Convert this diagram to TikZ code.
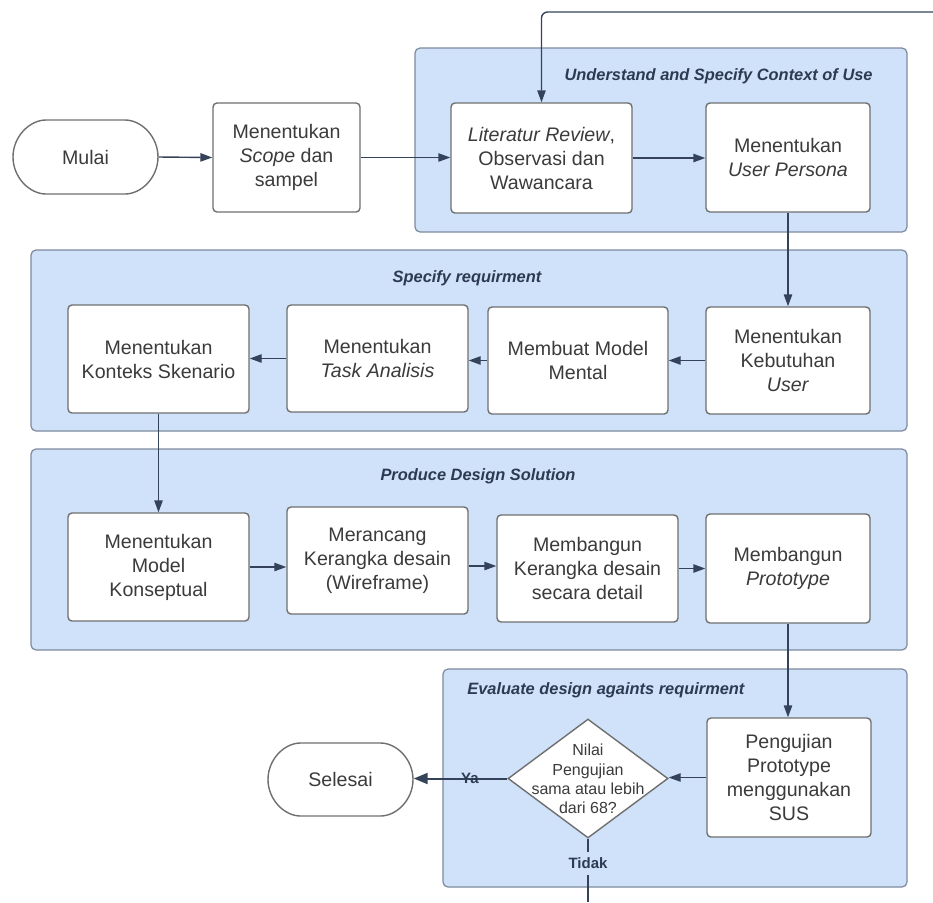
\documentclass[tikz,border=0pt]{standalone}
\usepackage{fontspec}
\setmainfont{Liberation Sans}
\usetikzlibrary{arrows.meta,shapes.geometric,shapes.misc}
\definecolor{grpfill}{HTML}{CFE2FA}
\definecolor{grpline}{HTML}{7D8A9C}
\definecolor{boxline}{HTML}{6F6F6F}
\definecolor{txt}{HTML}{3B3B3B}
\definecolor{ttl}{HTML}{2C3B50}
\definecolor{arrcol}{HTML}{34435A}
\begin{document}
\begin{tikzpicture}[x=0.5pt,y=-0.5pt,
  sz/.style 2 args={minimum width=#1*0.5pt, minimum height=#2*0.5pt},
  grp/.style={draw=grpline, fill=grpfill, line width=0.6pt, rounded corners=2.5pt, inner sep=0pt},
  procbox/.style={draw=boxline, fill=white, line width=0.7pt, rounded corners=2pt,
    align=center, text=txt, font=\fontsize{9.8}{12}\selectfont, inner sep=0pt},
  term/.style={procbox, rounded rectangle},
  decis/.style={draw=boxline, fill=white, line width=0.7pt, diamond, inner sep=0pt},
  dtext/.style={align=center, text=txt, font=\fontsize{8}{9.6}\selectfont, inner sep=0pt},
  ttlstyle/.style={font=\fontsize{8.2}{10}\selectfont\bfseries\itshape, text=ttl, inner sep=0pt},
  lbl/.style={font=\fontsize{7.5}{9}\selectfont\bfseries, text=ttl, inner sep=1pt},
  conn/.style={draw=arrcol, line width=0.7pt, -{Triangle[length=6pt,width=4.2pt]}},
  bigconn/.style={draw=arrcol, line width=1pt, -{Triangle[length=7pt,width=5.5pt]}}
]
\useasboundingbox (0,0) rectangle (933,902);

% groups
\node[grp, sz={492}{184}] (g1) at (661,140) {};
\node[grp, sz={876}{181}] (g2) at (469,340.5) {};
\node[grp, sz={876}{201}] (g3) at (469,549.5) {};
\node[grp, sz={464}{218}] (g4) at (675,778) {};

\node[ttlstyle, anchor=east] (t1) at (873,76) {Understand and Specify Context of Use};
\node[ttlstyle] (t2) at (467,278) {Specify requirment};
\node[ttlstyle] (t3) at (478,476) {Produce Design Solution};
\node[ttlstyle, anchor=west] (t4) at (467,690) {Evaluate design againts requirment};

% row 1
\node[term, sz={145}{74}] (mulai) at (85.5,157) {Mulai};
\node[procbox, sz={147}{109}] (scope) at (286.5,157.5) {Menentukan\\\textit{Scope} dan\\sampel};
\node[procbox, sz={181}{110}] (lit) at (541.5,158) {\textit{Literatur Review},\\Observasi dan\\Wawancara};
\node[procbox, sz={164}{109}] (pers) at (788,157.5) {Menentukan\\\textit{User Persona}};

% row 2
\node[procbox, sz={164}{107}] (keb) at (788,360.5) {Menentukan\\Kebutuhan\\\textit{User}};
\node[procbox, sz={180}{107}] (mental) at (578,360.5) {Membuat Model\\Mental};
\node[procbox, sz={181}{107}] (task) at (377.5,358.5) {Menentukan\\\textit{Task Analisis}};
\node[procbox, sz={181}{108}] (konteks) at (158.5,359) {Menentukan\\Konteks Skenario};

% row 3
\node[procbox, sz={181}{108}] (konsep) at (158.5,567) {Menentukan\\Model\\Konseptual};
\node[procbox, sz={181}{107}] (wire) at (377.5,560.5) {Merancang\\Kerangka desain\\(Wireframe)};
\node[procbox, sz={181}{107}] (detail) at (587.5,568.5) {Membangun\\Kerangka desain\\secara detail};
\node[procbox, sz={164}{109}] (proto) at (788,568.5) {Membangun\\\textit{Prototype}};

% row 4
\node[procbox, sz={164}{119}] (sus) at (789,777.5) {Pengujian\\Prototype\\menggunakan\\SUS};
\node[decis, sz={160}{119}] (dia) at (588,778.5) {};
\node[dtext] (diatext) at (588,779) {Nilai\\Pengujian\\sama atau lebih\\dari 68?};
\node[term, sz={145}{73}] (selesai) at (340.5,779.5) {Selesai};

% free ends
\coordinate (loopin) at (933,12);
\coordinate (loopout) at (588,902);

% connectors
\draw[conn, rounded corners=3pt] (loopin) -| (lit.north);
\draw[conn] (mulai.east) -- (scope.west);
\draw[conn] (scope.east) -- (scope.east -| lit.west);
\draw[conn] (lit.east) -- (lit.east -| pers.west);
\draw[conn] (pers.south) -- (pers.south |- keb.north);
\draw[conn] (keb.west) -- (keb.west -| mental.east);
\draw[conn] (mental.west) -- (mental.west -| task.east);
\draw[conn] (task.west) -- (task.west -| konteks.east);
\draw[conn] (konteks.south) -- (konteks.south |- konsep.north);
\draw[conn] (konsep.east) -- (konsep.east -| wire.west);
\draw[conn] (wire.east |- 0,566) -- (detail.west |- 0,566);
\draw[conn] (detail.east) -- (detail.east -| proto.west);
\draw[conn] (proto.south) -- (proto.south |- sus.north);
\draw[conn] (sus.west) -- (sus.west -| dia.east);
\draw[bigconn] (dia.west) -- (dia.west -| selesai.east) node[lbl, pos=0.4] (ya) {Ya};
\draw[draw=arrcol, line width=0.7pt] (dia.south) -- (loopout);
\node[lbl, fill=grpfill, inner sep=3pt] (tidak) at (588,863) {Tidak};

\end{tikzpicture}
\end{document}
